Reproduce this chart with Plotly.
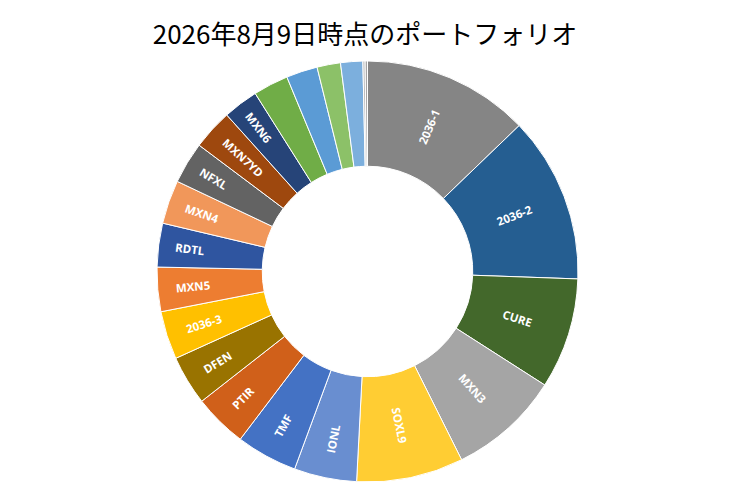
import plotly.graph_objects as go

# 銘柄（時計回り、12時から）
labels = ['2036-1', '2036-2', 'CURE', 'MXN3', 'SOXL9', 'IONL', 'TMF', 'PTIR',
          'DFEN', '2036-3', 'MXN5', 'RDTL', 'MXN4', 'NFXL', 'MXN7YD', 'MXN6',
          'その他A', 'その他B', 'その他C', 'その他D', 'その他E', 'その他F']

# 角度から読み取った構成比（%）
shares = [12.8, 12.75, 8.5, 8.55, 8.2, 4.8, 4.7, 4.1, 3.8, 3.7, 3.4,
          3.35, 3.35, 3.2, 3.1, 2.7, 2.7, 2.4, 1.8, 1.7, 0.17, 0.18]

# 表示するラベル（小さいものは非表示）
shown = labels[:16] + [''] * 6

colors = ['#858585', '#255E91', '#43682B', '#A5A5A5', '#FFCD33', '#698ED0',
          '#4472C4', '#D0601A', '#997300', '#FFC000', '#ED7D31', '#2F55A0',
          '#F1975A', '#636363', '#9E480E', '#264478', '#70AD47', '#5B9BD5',
          '#8CC168', '#7CAFDD', '#B7B7B7', '#A5A5A5']

fig = go.Figure(go.Pie(
    labels=labels,
    values=shares,
    text=shown,
    texttemplate='%{text}',
    textposition='inside',
    insidetextorientation='radial',
    textfont=dict(family='Open Sans', size=11.5, color='white', weight='bold'),
    marker=dict(colors=colors, line=dict(color='white', width=1)),
    hole=0.5,
    sort=False,
    direction='clockwise',
    rotation=0,
    showlegend=False,
))

# ページ本体の余白(8px)を見込んで位置を調整
fig.update_layout(
    width=740, height=493,
    margin=dict(l=0, r=21, t=53, b=19),
    paper_bgcolor='white',
    plot_bgcolor='white',
    title=dict(text='2026年8月9日時点のポートフォリオ',
               x=357 / 740, xanchor='center', y=1 - 27 / 493, yanchor='middle',
               yref='container',
               font=dict(family='Noto Sans CJK JP', size=26, color='black')),
)

fig.write_html('out.html')
